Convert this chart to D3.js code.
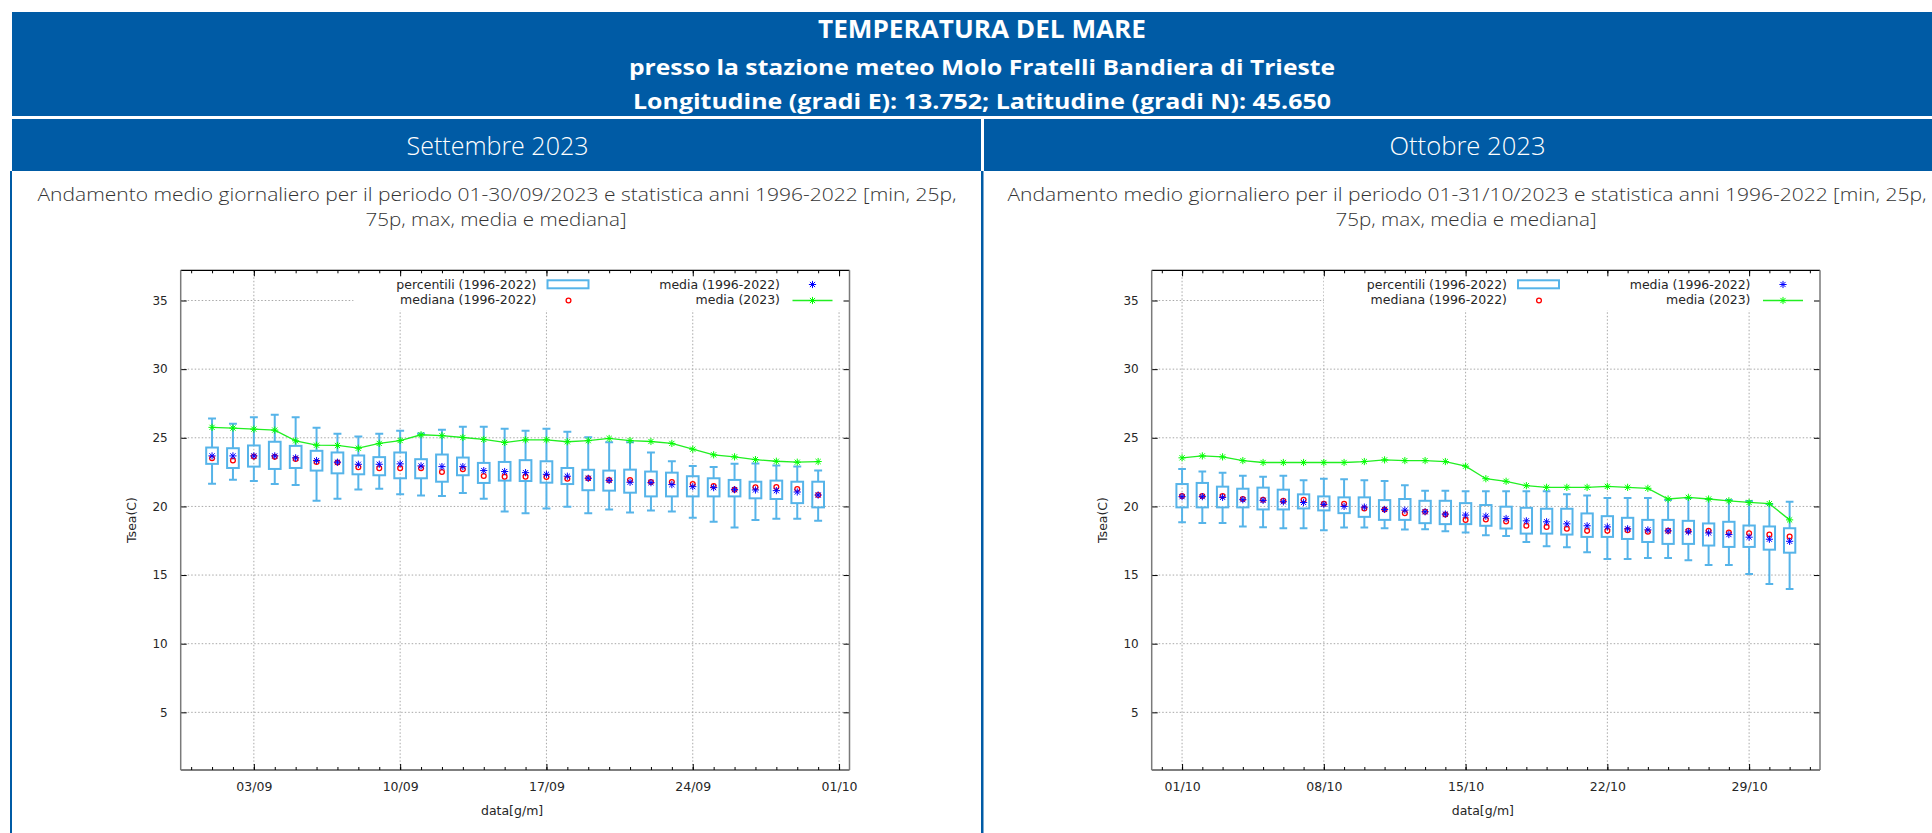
<!DOCTYPE html>
<html>
<head>
<meta charset="utf-8">
<script src="https://cdnjs.cloudflare.com/ajax/libs/d3/7.8.5/d3.min.js"></script>
<style>
  body { margin: 0; overflow: hidden; background: #fff; }
  svg text { font-family: "DejaVu Sans", sans-serif; }
</style>
</head>
<body>
<script>
  // --- settembre 2023 (giorni 1..30)
  var sepDays = [1,2,3,4,5,6,7,8,9,10,11,12,13,14,15,16,17,18,19,20,21,22,23,24,25,26,27,28,29,30];
  var sepMin = [21.66,21.95,21.85,21.63,21.56,20.41,20.56,21.24,21.29,20.88,20.80,20.76,20.98,20.56,19.63,19.51,19.85,19.98,19.50,19.78,19.56,19.71,19.63,19.17,18.88,18.46,19.02,19.10,19.10,18.95];
  var sepP25 = [23.10,22.80,22.90,22.73,22.80,22.61,22.41,22.34,22.27,22.05,22.05,21.80,22.27,21.71,21.88,21.85,21.73,21.63,21.18,21.15,21.00,20.73,20.73,20.73,20.73,20.73,20.59,20.54,20.24,19.93];
  var sepP75 = [24.29,24.24,24.44,24.71,24.41,24.05,23.93,23.71,23.59,23.93,23.44,23.78,23.56,23.17,23.24,23.37,23.29,22.80,22.67,22.61,22.68,22.54,22.46,22.20,22.05,21.93,21.80,21.88,21.80,21.80];
  var sepMax = [26.41,26.02,26.49,26.68,26.49,25.73,25.29,25.10,25.29,25.51,25.32,25.59,25.80,25.80,25.66,25.51,25.66,25.44,25.03,24.68,24.68,23.93,23.29,22.95,22.88,23.10,23.12,22.98,22.90,22.61];
  var sepMean = [23.68,23.68,23.68,23.68,23.54,23.34,23.22,23.07,23.07,23.10,22.95,22.90,22.90,22.61,22.54,22.46,22.34,22.20,22.05,21.90,21.76,21.73,21.59,21.44,21.37,21.22,21.20,21.15,21.05,20.83];
  var sepMedian = [23.51,23.34,23.63,23.61,23.46,23.24,23.20,22.85,22.78,22.78,22.78,22.51,22.71,22.22,22.17,22.17,22.15,22.02,22.05,21.93,21.93,21.78,21.78,21.63,21.49,21.22,21.39,21.41,21.27,20.83];
  var sep2023 = [25.76,25.71,25.63,25.56,24.78,24.46,24.44,24.24,24.59,24.80,25.22,25.15,25.02,24.88,24.66,24.85,24.85,24.71,24.79,24.95,24.80,24.73,24.59,24.17,23.76,23.61,23.41,23.29,23.22,23.27];
  var sepTickDays = [3, 10, 17, 24, 31];
  var sepTickLabels = ["03/09", "10/09", "17/09", "24/09", "01/10"];

  // --- ottobre 2023 (giorni 1..31)
  var octDays = [1,2,3,4,5,6,7,8,9,10,11,12,13,14,15,16,17,18,19,20,21,22,23,24,25,26,27,28,29,30,31];
  var octMin = [18.85,18.80,18.80,18.54,18.49,18.41,18.41,18.27,18.46,18.46,18.41,18.32,18.34,18.20,18.10,17.90,17.85,17.41,17.10,17.02,16.66,16.17,16.17,16.24,16.24,16.07,15.73,15.73,15.07,14.34,13.98];
  var octP25 = [19.93,19.93,19.93,19.93,19.78,19.78,19.85,19.71,19.51,19.24,19.02,19.02,18.78,18.71,18.71,18.59,18.39,18.02,18.02,17.95,17.78,17.78,17.63,17.41,17.27,17.27,17.15,17.05,17.05,16.85,16.63];
  var octP75 = [21.63,21.71,21.44,21.29,21.37,21.22,20.88,20.73,20.66,20.66,20.46,20.54,20.41,20.41,20.24,20.10,19.98,19.90,19.83,19.83,19.49,19.29,19.17,19.02,19.02,18.95,18.76,18.88,18.61,18.54,18.41];
  var octMax = [22.73,22.54,22.46,22.24,22.17,22.24,21.90,22.02,21.98,21.90,21.85,21.54,21.15,21.15,21.10,21.10,21.10,21.10,21.10,20.88,20.80,20.61,20.61,20.61,20.46,20.61,20.54,20.46,20.40,20.17,20.34];
  var octMean = [20.71,20.71,20.66,20.49,20.44,20.34,20.29,20.15,20.00,19.95,19.78,19.73,19.61,19.44,19.37,19.29,19.12,18.95,18.88,18.73,18.59,18.51,18.37,18.29,18.22,18.15,18.07,17.95,17.76,17.61,17.46];
  var octMedian = [20.76,20.76,20.76,20.54,20.49,20.41,20.49,20.20,20.20,19.85,19.78,19.51,19.61,19.41,19.02,19.05,18.90,18.59,18.51,18.37,18.22,18.22,18.27,18.15,18.22,18.22,18.22,18.10,18.05,17.95,17.80];
  var oct2023 = [23.54,23.68,23.61,23.34,23.20,23.20,23.20,23.20,23.20,23.27,23.39,23.34,23.34,23.27,22.93,22.02,21.83,21.51,21.39,21.39,21.39,21.46,21.39,21.32,20.54,20.66,20.54,20.41,20.29,20.20,19.02];
  var octTickDays = [1, 8, 15, 22, 29];
  var octTickLabels = ["01/10", "08/10", "15/10", "22/10", "29/10"];

  var yTicks = [5, 10, 15, 20, 25, 30, 35];
  var legendLabels = ["percentili (1996-2022)", "mediana (1996-2022)", "media (1996-2022)", "media (2023)"];

  var blue = "#005ba5",
    boxBlue = "#56b4e9",
    headFont = "'Open Sans', 'Noto Sans', sans-serif";

  var svg = d3.select("body").append("svg")
    .attr("width", 1932)
    .attr("height", 833);

  function fit(t, w) {
    return t.attr("textLength", w).attr("lengthAdjust", "spacingAndGlyphs");
  }

  // intestazione
  svg.append("rect").attr("x", 12).attr("y", 12).attr("width", 1940).attr("height", 104).attr("fill", blue);
  svg.append("rect").attr("x", 12).attr("y", 119).attr("width", 969).attr("height", 52).attr("fill", blue);
  svg.append("rect").attr("x", 984).attr("y", 119).attr("width", 969).attr("height", 52).attr("fill", blue);
  svg.append("rect").attr("x", 10).attr("y", 171).attr("width", 2).attr("height", 662).attr("fill", blue);
  svg.append("rect").attr("x", 981).attr("y", 171).attr("width", 2.5).attr("height", 662).attr("fill", blue);

  var titles = [
    {text: "TEMPERATURA DEL MARE", y: 37.7, size: 25.5, w: 328},
    {text: "presso la stazione meteo Molo Fratelli Bandiera di Trieste", y: 75, size: 21, w: 706},
    {text: "Longitudine (gradi E): 13.752; Latitudine (gradi N): 45.650", y: 108.7, size: 21, w: 698}
  ];
  titles.forEach(function(t) {
    fit(svg.append("text")
      .attr("x", 982).attr("y", t.y)
      .attr("text-anchor", "middle")
      .style("font-family", headFont)
      .style("font-weight", "bold")
      .style("font-size", t.size + "px")
      .attr("fill", "#fff")
      .text(t.text), t.w);
  });

  var columns = [
    {cx: 497.5, month: "Settembre 2023", mw: 182,
      line1: "Andamento medio giornaliero per il periodo 01-30/09/2023 e statistica anni 1996-2022 [min, 25p,"},
    {cx: 1467.5, month: "Ottobre 2023", mw: 156,
      line1: "Andamento medio giornaliero per il periodo 01-31/10/2023 e statistica anni 1996-2022 [min, 25p,"}
  ];
  columns.forEach(function(c) {
    fit(svg.append("text")
      .attr("x", c.cx).attr("y", 155)
      .attr("text-anchor", "middle")
      .style("font-family", headFont)
      .style("font-weight", 300)
      .style("font-size", "25px")
      .attr("fill", "#fff")
      .text(c.month), c.mw);
    fit(svg.append("text")
      .attr("x", c.cx - 0.5).attr("y", 201.2)
      .attr("text-anchor", "middle")
      .style("font-family", headFont)
      .style("font-weight", 300)
      .style("font-size", "18.3px")
      .attr("fill", "#333")
      .text(c.line1), 919);
    fit(svg.append("text")
      .attr("x", c.cx - 1.5).attr("y", 226.3)
      .attr("text-anchor", "middle")
      .style("font-family", headFont)
      .style("font-weight", 300)
      .style("font-size", "18.3px")
      .attr("fill", "#333")
      .text("75p, max, media e mediana]"), 261);
  });

  function star(s) {
    var a = s * 0.72;
    return "M" + (-s) + ",0H" + s + "M0," + (-s) + "V" + s +
      "M" + (-a) + "," + (-a) + "L" + a + "," + a +
      "M" + (-a) + "," + a + "L" + a + "," + (-a);
  }

  function drawChart(c) {
    var n = c.days.length;
    var x = d3.scaleLinear().domain([-0.5, n + 1.5]).range([c.left, c.right]);
    var y = d3.scaleLinear().domain([0.8, 37.2]).range([770, 270.3]);
    var dayPx = x(1) - x(0);
    var g = svg.append("g");

    var rows = c.days.map(function(d, i) {
      return {day: d, min: c.min[i], p25: c.p25[i], p75: c.p75[i], max: c.max[i],
        mean: c.mean[i], median: c.median[i], cur: c.cur[i]};
    });

    // griglia
    g.selectAll(".hg").data(yTicks).enter().append("line")
      .attr("x1", c.left).attr("x2", c.right)
      .attr("y1", function(d) { return y(d); })
      .attr("y2", function(d) { return y(d); })
      .attr("stroke", "#a8a8a8").attr("stroke-dasharray", "1.5,2");
    g.selectAll(".vg").data(c.tickDays).enter().append("line")
      .attr("x1", function(d) { return x(d); })
      .attr("x2", function(d) { return x(d); })
      .attr("y1", 270.3).attr("y2", 770)
      .attr("stroke", "#a8a8a8").attr("stroke-dasharray", "1.5,2");

    // sfondo legenda
    g.append("rect")
      .attr("x", c.right - 496).attr("y", 271)
      .attr("width", 494).attr("height", 39.5)
      .attr("fill", "#fff");

    // whisker
    g.selectAll(".wh").data(rows).enter().append("path")
      .attr("d", function(d) {
        var cx = x(d.day), hw = dayPx * 0.19;
        return "M" + cx + "," + y(d.max) + "V" + y(d.p75) +
          "M" + cx + "," + y(d.p25) + "V" + y(d.min) +
          "M" + (cx - hw) + "," + y(d.max) + "H" + (cx + hw) +
          "M" + (cx - hw) + "," + y(d.min) + "H" + (cx + hw);
      })
      .attr("fill", "none").attr("stroke", boxBlue).attr("stroke-width", 2);

    // box 25p-75p
    g.selectAll(".box").data(rows).enter().append("rect")
      .attr("x", function(d) { return x(d.day) - dayPx * 0.28; })
      .attr("y", function(d) { return y(d.p75); })
      .attr("width", dayPx * 0.56)
      .attr("height", function(d) { return y(d.p25) - y(d.p75); })
      .attr("fill", "none").attr("stroke", boxBlue).attr("stroke-width", 2);

    // mediana
    g.selectAll(".med").data(rows).enter().append("circle")
      .attr("cx", function(d) { return x(d.day); })
      .attr("cy", function(d) { return y(d.median); })
      .attr("r", 2.4)
      .attr("fill", "none").attr("stroke", "#ff0000").attr("stroke-width", 1.3);

    // media storica
    g.selectAll(".mean").data(rows).enter().append("path")
      .attr("transform", function(d) { return "translate(" + x(d.day) + "," + y(d.mean) + ")"; })
      .attr("d", star(3.6))
      .attr("stroke", "#0000ff").attr("stroke-width", 1);

    // media 2023
    g.append("path")
      .datum(rows)
      .attr("d", d3.line().x(function(d) { return x(d.day); }).y(function(d) { return y(d.cur); }))
      .attr("fill", "none").attr("stroke", "#22ee22").attr("stroke-width", 1.3);
    g.selectAll(".cur").data(rows).enter().append("path")
      .attr("transform", function(d) { return "translate(" + x(d.day) + "," + y(d.cur) + ")"; })
      .attr("d", star(3.6))
      .attr("stroke", "#00ff00").attr("stroke-width", 1);

    // assi
    function styleAxis(a) {
      a.select(".domain").remove();
      a.selectAll("line").attr("stroke", "#000");
      a.selectAll("text")
        .attr("fill", "#262626")
        .style("font-family", "'DejaVu Sans', sans-serif")
        .style("font-size", "12px");
    }
    var minorDays = d3.range(0, n + 2);
    g.append("g").attr("transform", "translate(0,770)")
      .call(d3.axisBottom(x).tickValues(minorDays).tickFormat("").tickSize(-3))
      .call(styleAxis);
    g.append("g").attr("transform", "translate(0,770)")
      .call(d3.axisBottom(x).tickValues(c.tickDays)
        .tickFormat(function(d, i) { return c.tickLabels[i]; })
        .tickSize(-6).tickPadding(12))
      .call(styleAxis)
      .selectAll("text").style("font-size", "12.5px");
    g.append("g").attr("transform", "translate(0,270.3)")
      .call(d3.axisTop(x).tickValues(minorDays).tickFormat("").tickSize(-3))
      .call(styleAxis);
    g.append("g").attr("transform", "translate(0,270.3)")
      .call(d3.axisTop(x).tickValues(c.tickDays).tickFormat("").tickSize(-6))
      .call(styleAxis);
    g.append("g").attr("transform", "translate(" + c.left + ",0)")
      .call(d3.axisLeft(y).tickValues(yTicks).tickSize(-6).tickPadding(13))
      .call(styleAxis);
    g.append("g").attr("transform", "translate(" + c.right + ",0)")
      .call(d3.axisRight(y).tickValues(yTicks).tickFormat("").tickSize(-6))
      .call(styleAxis);

    // bordo
    g.append("line").attr("x1", c.left).attr("x2", c.right).attr("y1", 270.3).attr("y2", 270.3)
      .attr("stroke", "#000").attr("stroke-width", 1.2);
    g.append("line").attr("x1", c.left).attr("x2", c.right).attr("y1", 770).attr("y2", 770)
      .attr("stroke", "#000").attr("stroke-width", 1.2);
    g.append("line").attr("x1", c.left).attr("x2", c.left).attr("y1", 270.3).attr("y2", 770)
      .attr("stroke", "#7a7a7a").attr("stroke-width", 1.5);
    g.append("line").attr("x1", c.right).attr("x2", c.right).attr("y1", 270.3).attr("y2", 770)
      .attr("stroke", "#7a7a7a").attr("stroke-width", 1.5);

    // etichette assi
    g.append("text")
      .attr("x", (c.left + c.right) / 2 - 3).attr("y", 814.5)
      .attr("text-anchor", "middle")
      .style("font-size", "12.5px").attr("fill", "#262626")
      .text("data[g/m]");
    g.append("text")
      .attr("transform", "translate(" + (c.left - 44.5) + ",520) rotate(-90)")
      .attr("text-anchor", "middle")
      .style("font-size", "12.5px").attr("fill", "#262626")
      .text("Tsea(C)");

    // legenda
    var R = c.right;
    var leg = g.append("g").style("font-size", "12.5px").attr("fill", "#262626");
    [[legendLabels[0], R - 313, 288.8], [legendLabels[1], R - 313, 304],
     [legendLabels[2], R - 69.5, 288.8], [legendLabels[3], R - 69.5, 304]].forEach(function(l) {
      leg.append("text").attr("x", l[1]).attr("y", l[2]).attr("text-anchor", "end").text(l[0]);
    });
    leg.append("rect").attr("x", R - 302).attr("y", 280.3).attr("width", 41).attr("height", 8)
      .attr("fill", "none").attr("stroke", boxBlue).attr("stroke-width", 2);
    leg.append("circle").attr("cx", R - 281).attr("cy", 300.5).attr("r", 2.4)
      .attr("fill", "none").attr("stroke", "#ff0000").attr("stroke-width", 1.3);
    leg.append("path").attr("transform", "translate(" + (R - 37) + ",284.5)")
      .attr("d", star(3.6)).attr("stroke", "#0000ff").attr("stroke-width", 1);
    leg.append("line").attr("x1", R - 57).attr("x2", R - 17).attr("y1", 300.5).attr("y2", 300.5)
      .attr("stroke", "#22ee22").attr("stroke-width", 1.3);
    leg.append("path").attr("transform", "translate(" + (R - 37) + ",300.5)")
      .attr("d", star(3.6)).attr("stroke", "#00ff00").attr("stroke-width", 1);
  }

  drawChart({left: 180.7, right: 849.5, days: sepDays, min: sepMin, p25: sepP25, p75: sepP75,
    max: sepMax, mean: sepMean, median: sepMedian, cur: sep2023,
    tickDays: sepTickDays, tickLabels: sepTickLabels});
  drawChart({left: 1151.7, right: 1820, days: octDays, min: octMin, p25: octP25, p75: octP75,
    max: octMax, mean: octMean, median: octMedian, cur: oct2023,
    tickDays: octTickDays, tickLabels: octTickLabels});
</script>
</body>
</html>
